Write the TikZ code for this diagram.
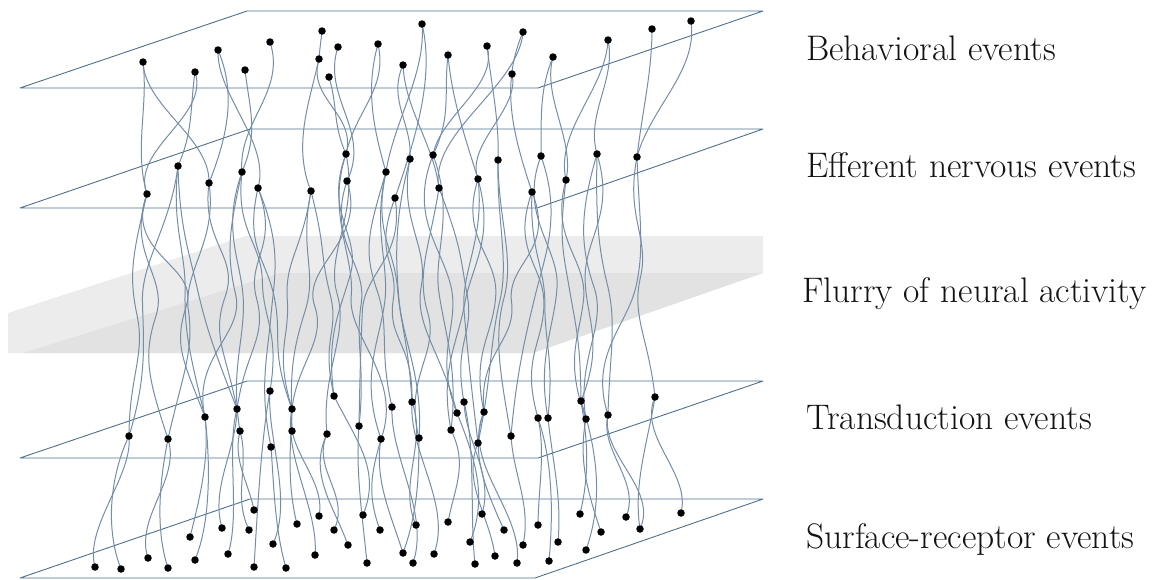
\documentclass[tikz,border=0pt]{standalone}
\usetikzlibrary{calc}
\definecolor{planec}{RGB}{78,112,140}
\definecolor{wirec}{RGB}{116,142,168}
\definecolor{slabA}{RGB}{236,236,236}
\definecolor{slabB}{RGB}{226,226,226}
\definecolor{textc}{RGB}{20,20,20}
\tikzset{
 plane/.style={draw=planec, line width=0.9pt, line join=round},
 wire/.style={draw=wirec, line width=1pt},
 dot/.style={circle, fill=black, inner sep=0pt, minimum size=7.5pt},
 lbl/.style={anchor=base west, inner sep=0pt, text=textc, font=\fontsize{35.5}{42}\selectfont}
}
\newcommand\sw[3]{%
 \pgfmathsetmacro\wxa{#3*0.5*rand}\pgfmathsetmacro\wxb{#3*0.5*rand}%
 \draw[wire] (#1) .. controls +(\wxa,#3) and +(\wxb,-#3) .. (#2);}
\newcommand\mw[2]{%
 \pgfmathsetmacro\wxa{25*rand}\pgfmathsetmacro\wxb{25*rand}%
 \pgfmathsetmacro\wxc{16*rand}\pgfmathsetmacro\wxd{14*rand}\pgfmathsetmacro\wxe{0-(\wxd)}%
 \draw[wire] (#1) .. controls +(\wxa,60) and +(\wxd,-40) .. ($(#1)!0.5!(#2)+(\wxc,0)$) .. controls +(\wxe,40) and +(\wxb,-60) .. (#2);}
\begin{document}
\begin{tikzpicture}[x=1pt,y=-1pt]
\pgfmathsetseed{42}
\useasboundingbox (0,0) rectangle (1160,579);
% gray slab
\fill[slabA] (8,353) -- (8,313) -- (245,236) -- (763,236) -- (763,273) -- (533,353) -- cycle;
\fill[slabB] (23,353) -- (280,273) -- (763,273) -- (533,353) -- cycle;
% planes
\draw[plane] (20,88) -- (538,88) -- (763,11) -- (247,11) -- cycle;
\draw[plane] (20,208) -- (537,208) -- (763,129) -- (250,129) -- cycle;
\draw[plane] (20,458) -- (538,458) -- (763,381) -- (247,381) -- cycle;
\draw[plane] (20,578) -- (535,578) -- (763,499) -- (250,499) -- cycle;
% coordinates
\foreach \n/\p in {T1/{143,62},T2/{195,72},T3/{218,50},T4/{245,70},T5/{270,42},T6/{322,31},T7/{319,59},T8/{338,47},T9/{329,77},T10/{378,44},T11/{422,24},T12/{403,65},T13/{448,55},T14/{487,46},T15/{523,32},T16/{512,74},T17/{553,57},T18/{608,40},T19/{652,29},T20/{691,21},
E1/{147,194},E2/{178,166},E3/{209,183},E4/{242,172},E5/{258,188},E6/{311,191},E7/{346,154},E8/{347,181},E9/{386,172},E10/{395,198},E11/{410,159},E12/{433,155},E13/{439,188},E14/{478,179},E15/{498,160},E16/{532,192},E17/{541,156},E18/{566,180},E19/{597,154},E20/{637,157},
D1/{129,436},D2/{168,439},D3/{205,417},D4/{237,409},D5/{240,431},D6/{270,391},D7/{271,447},D8/{292,409},D9/{292,431},D10/{327,434},D11/{334,396},D12/{359,426},D13/{381,439},D14/{392,407},D15/{412,402},D16/{419,438},D17/{451,430},D18/{457,413},D19/{464,402},D20/{478,443},D21/{484,412},D22/{511,436},D23/{538,418},D24/{548,418},D25/{581,401},D26/{586,419},D27/{608,415},D28/{655,397},
S1/{95,567},S2/{121,569},S3/{148,558},S4/{168,568},S5/{190,537},S6/{195,560},S7/{222,528},S8/{228,554},S9/{249,530},S10/{254,510},S11/{254,567},S12/{273,544},S13/{286,568},S14/{297,524},S15/{315,555},S16/{319,516},S17/{334,530},S18/{348,545},S19/{363,515},S20/{367,563},S21/{380,530},S22/{403,553},S23/{413,563},S24/{416,525},S25/{434,554},S26/{448,522},S27/{470,542},S28/{475,564},S29/{482,514},S30/{495,556},S31/{504,530},S32/{517,563},S33/{523,545},S34/{538,525},S35/{549,561},S36/{558,542},S37/{580,514},S38/{586,550},S39/{601,532},S40/{626,517},S41/{640,529},S42/{681,513}}
 {\coordinate (\n) at (\p);}
% top -> efferent wires
\sw{T1}{E1}{45}\sw{T1}{E3}{45}
\sw{T2}{E1}{45}\sw{T2}{E2}{35}
\sw{T3}{E3}{45}\sw{T3}{E5}{45}
\sw{T4}{E4}{40}\sw{T5}{E4}{50}
\sw{T6}{T7}{10}\sw{T7}{E6}{45}\sw{T7}{E7}{40}
\sw{T8}{E8}{50}\sw{T9}{E7}{30}
\sw{T10}{E7}{45}\sw{T10}{E9}{45}
\sw{T11}{E10}{55}\sw{T11}{E9}{50}
\sw{T12}{E11}{35}\sw{T12}{E13}{45}
\sw{T13}{E14}{45}\sw{T13}{E12}{40}
\sw{T14}{E15}{40}\sw{T14}{E12}{40}
\sw{T15}{E16}{55}\sw{T15}{E13}{55}
\sw{T16}{E14}{35}
\sw{T17}{E17}{35}\sw{T17}{E18}{40}
\sw{T18}{E19}{40}\sw{T18}{E18}{50}
\sw{T19}{E20}{45}\sw{T20}{E20}{50}
% efferent -> transduction wires
\mw{E1}{D1}\mw{E1}{D2}\mw{E1}{D3}
\mw{E2}{D1}\mw{E2}{D3}\mw{E2}{D4}
\mw{E3}{D2}\mw{E3}{D4}
\mw{E4}{D5}\mw{E4}{D3}\mw{E4}{D6}
\mw{E5}{D7}\mw{E5}{D4}\mw{E5}{D8}
\mw{E6}{D8}\mw{E6}{D9}\mw{E6}{D11}
\mw{E7}{D10}\mw{E7}{D11}\mw{E7}{D13}
\mw{E8}{D12}\mw{E8}{D9}
\mw{E9}{D13}\mw{E9}{D14}\mw{E9}{D15}
\mw{E10}{D15}\mw{E10}{D12}
\mw{E11}{D16}\mw{E11}{D18}
\mw{E12}{D17}\mw{E12}{D18}
\mw{E13}{D19}\mw{E13}{D16}
\mw{E14}{D20}\mw{E14}{D21}\mw{E14}{D17}
\mw{E15}{D22}\mw{E15}{D20}
\mw{E16}{D23}\mw{E16}{D21}\mw{E16}{D24}
\mw{E17}{D24}\mw{E17}{D22}
\mw{E18}{D25}\mw{E18}{D26}
\mw{E19}{D26}\mw{E19}{D27}\mw{E19}{D25}
\mw{E20}{D28}\mw{E20}{D27}
% transduction -> surface wires
\sw{D1}{S1}{40}\sw{D1}{S2}{40}
\sw{D2}{S3}{40}\sw{D2}{S4}{40}
\sw{D3}{S5}{40}\sw{D3}{S6}{40}
\sw{D4}{S7}{40}\sw{D4}{S8}{40}
\sw{D5}{S10}{30}\sw{D5}{S9}{35}
\sw{D6}{S11}{50}\sw{D6}{S12}{45}
\sw{D7}{S13}{40}
\sw{D8}{S14}{40}\sw{D8}{S15}{45}
\sw{D9}{S16}{30}
\sw{D10}{S17}{35}\sw{D10}{S18}{40}
\sw{D11}{S19}{45}
\sw{D12}{S20}{45}
\sw{D13}{S21}{35}\sw{D13}{S22}{40}
\sw{D14}{S23}{50}
\sw{D15}{S24}{40}\sw{D15}{S25}{50}
\sw{D16}{S22}{40}
\sw{D17}{S26}{35}
\sw{D18}{S27}{45}
\sw{D19}{S28}{50}\sw{D19}{S29}{40}
\sw{D20}{S30}{40}
\sw{D21}{S31}{40}\sw{D21}{S32}{50}
\sw{D22}{S33}{40}
\sw{D23}{S34}{35}\sw{D23}{S35}{45}
\sw{D24}{S36}{45}
\sw{D25}{S37}{40}\sw{D25}{S38}{50}
\sw{D26}{S39}{40}
\sw{D27}{S40}{35}\sw{D27}{S41}{40}
\sw{D28}{S42}{40}\sw{D28}{S41}{45}
% dots
\foreach \n in {T1,T2,T3,T4,T5,T6,T7,T8,T9,T10,T11,T12,T13,T14,T15,T16,T17,T18,T19,T20,
E1,E2,E3,E4,E5,E6,E7,E8,E9,E10,E11,E12,E13,E14,E15,E16,E17,E18,E19,E20,
D1,D2,D3,D4,D5,D6,D7,D8,D9,D10,D11,D12,D13,D14,D15,D16,D17,D18,D19,D20,D21,D22,D23,D24,D25,D26,D27,D28,
S1,S2,S3,S4,S5,S6,S7,S8,S9,S10,S11,S12,S13,S14,S15,S16,S17,S18,S19,S20,S21,S22,S23,S24,S25,S26,S27,S28,S29,S30,S31,S32,S33,S34,S35,S36,S37,S38,S39,S40,S41,S42}
 {\node[dot] (n\n) at (\n) {};}
% labels
\node[lbl] (l1) at (806,60) {Behavioral events};
\node[lbl] (l2) at (806,177) {Efferent nervous events};
\node[lbl] (l3) at (802,302) {Flurry of neural activity};
\node[lbl] (l4) at (806,429) {Transduction events};
\node[lbl] (l5) at (806,548) {Surface-receptor events};
\end{tikzpicture}
\end{document}
